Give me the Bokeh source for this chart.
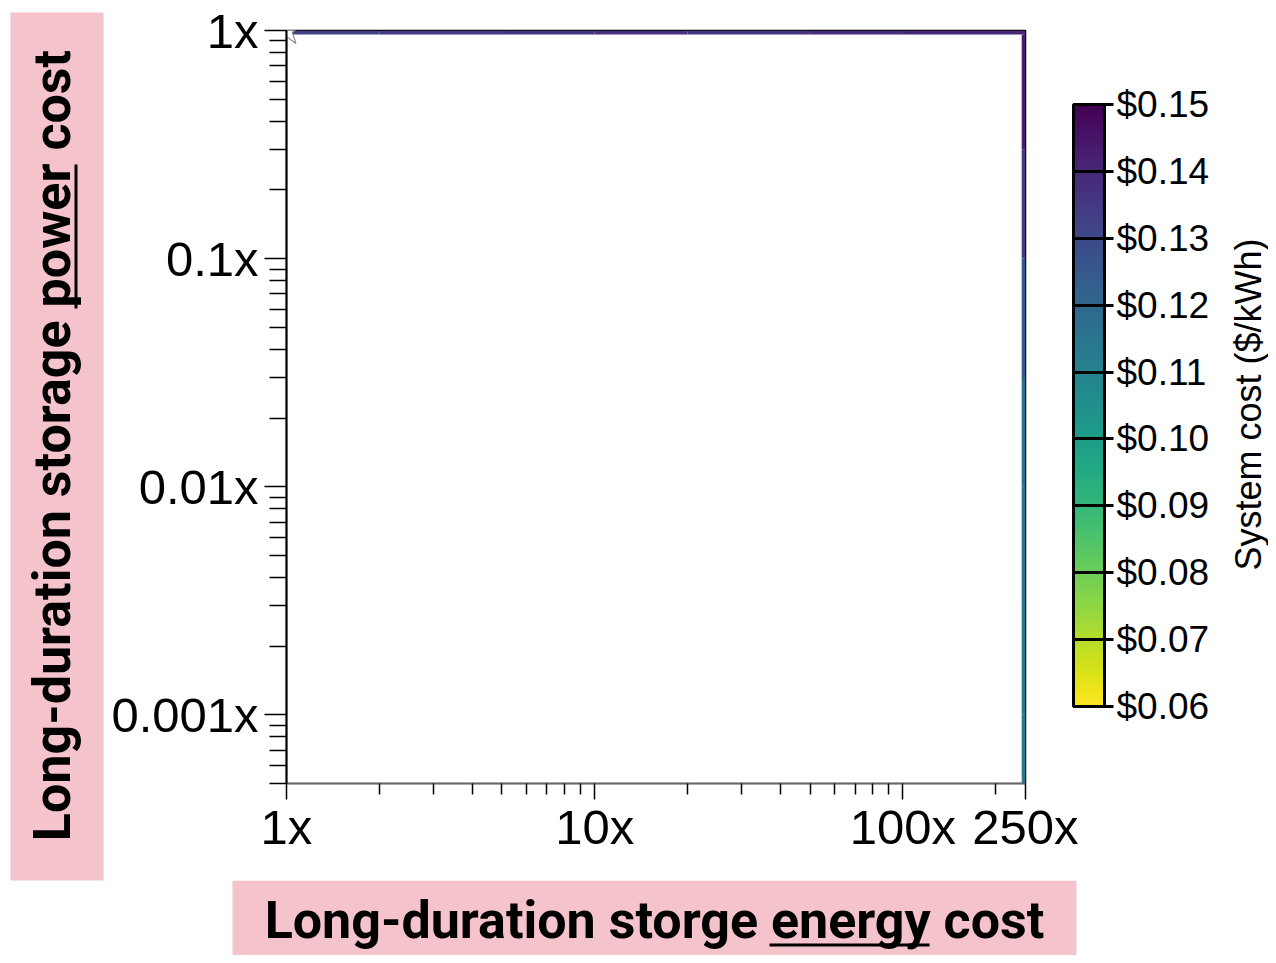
import math
from bokeh.plotting import figure
from bokeh.layouts import row, column
from bokeh.models import (LinearColorMapper, ColorBar, FixedTicker, NumeralTickFormatter,
                          ColumnDataSource)
from bokeh.palettes import Viridis256
from bokeh.core.properties import value
from bokeh.transform import linear_cmap
from bokeh.embed import file_html
from bokeh.resources import INLINE

# ---------------- data ----------------
energy_major_ticks = [1, 10, 100, 250]
energy_tick_labels = ["1x", "10x", "100x", "250x"]
energy_minor_ticks = [2, 3, 4, 5, 6, 7, 8, 9, 20, 30, 40, 50, 60, 70, 80, 90, 200]

power_major_ticks = [0.001, 0.01, 0.1, 1]
power_tick_labels = ["0.001x", "0.01x", "0.1x", "1x"]
power_minor_ticks = [0.0005, 0.0006, 0.0007, 0.0008, 0.0009,
                     0.002, 0.003, 0.004, 0.005, 0.006, 0.007, 0.008, 0.009,
                     0.02, 0.03, 0.04, 0.05, 0.06, 0.07, 0.08, 0.09,
                     0.2, 0.3, 0.4, 0.5, 0.6, 0.7, 0.8, 0.9]

# grid cells that carry a value: top row (power cost 1x) and right column (energy cost 250x)
top_row_energy_edges = [1, 2, 5, 10, 20, 50, 100, 250]
top_row_power_edges = [0.96, 1.0]
top_row_cost = [0.133, 0.135, 0.136, 0.137, 0.136, 0.138, 0.140]

right_col_power_edges = [0.0005, 0.001, 0.003, 0.01, 0.03, 0.1, 0.3, 0.96]
right_col_energy_edges = [243, 250]
right_col_cost = [0.112, 0.113, 0.115, 0.118, 0.125, 0.134, 0.143]

# reference point (star)
ref_energy = [1]
ref_power = [1]

cost_low, cost_high = 0.06, 0.15
cbar_ticks = [0.06, 0.07, 0.08, 0.09, 0.10, 0.11, 0.12, 0.13, 0.14, 0.15]

y_title = "Long-duration storage power cost"
x_title = "Long-duration storge energy cost"
cbar_title = "System cost ($/kWh)"

# ---------------- layout geometry (px) ----------------
LEFT_W, MAIN_W, RIGHT_W = 106, 1114, 48
MAIN_H, BOTTOM_H = 880, 75
TOTAL_H = MAIN_H + BOTTOM_H
FR_L, FR_T, FR_R, FR_B = 180, 30, 195, 97

pink = "#f5c3cc"
tick_font = "Liberation Sans"
title_font = "Roboto"


def blank_fig(w, h):
    f = figure(width=w, height=h, x_range=(0, w), y_range=(0, h),
               output_backend="svg", toolbar_location=None, min_border=0,
               x_axis_location=None, y_axis_location=None)
    f.outline_line_color = None
    f.xgrid.visible = False
    f.ygrid.visible = False
    f.background_fill_color = "white"
    f.border_fill_color = "white"
    return f


# ---------------- main figure ----------------
p = figure(width=MAIN_W, height=MAIN_H, x_axis_type="log", y_axis_type="log",
           x_range=(1, 250), y_range=(0.0005, 1),
           output_backend="svg", toolbar_location=None,
           min_border_left=FR_L, min_border_top=FR_T,
           min_border_right=FR_R, min_border_bottom=FR_B)
p.xgrid.visible = False
p.ygrid.visible = False
p.outline_line_color = "black"
p.outline_line_width = 1.5
p.background_fill_color = "white"
p.border_fill_color = "white"

mapper_palette = list(reversed(Viridis256))
cmap = linear_cmap("cost", mapper_palette, cost_low, cost_high)

top_src = ColumnDataSource(dict(
    left=top_row_energy_edges[:-1], right=top_row_energy_edges[1:],
    bottom=[top_row_power_edges[0]] * len(top_row_cost),
    top=[top_row_power_edges[1]] * len(top_row_cost),
    cost=top_row_cost))
right_src = ColumnDataSource(dict(
    left=[right_col_energy_edges[0]] * len(right_col_cost),
    right=[right_col_energy_edges[1]] * len(right_col_cost),
    bottom=right_col_power_edges[:-1], top=right_col_power_edges[1:],
    cost=right_col_cost))
p.quad(left="left", right="right", bottom="bottom", top="top", source=top_src,
       fill_color=cmap, line_color=None)
p.quad(left="left", right="right", bottom="bottom", top="top", source=right_src,
       fill_color=cmap, line_color=None)

p.scatter(ref_energy, ref_power, marker="star", size=32, fill_color="white",
          line_color="#8a8a8a", line_width=1.2)

xa = p.xaxis[0]
xa.ticker = FixedTicker(ticks=energy_major_ticks, minor_ticks=energy_minor_ticks)
xa.major_label_overrides = dict(zip(energy_major_ticks, energy_tick_labels))
xa.major_label_text_font = tick_font
xa.major_label_text_font_size = "49px"
xa.major_label_text_color = "black"
xa.axis_line_color = "#666666"
xa.axis_line_width = 1.5
xa.major_tick_in = 0
xa.major_tick_out = 16
xa.minor_tick_in = 0
xa.minor_tick_out = 11
xa.major_tick_line_color = "black"
xa.minor_tick_line_color = "black"
xa.major_tick_line_width = 1.5
xa.minor_tick_line_width = 1.5
xa.major_label_standoff = 0

ya = p.yaxis[0]
ya.ticker = FixedTicker(ticks=power_major_ticks, minor_ticks=power_minor_ticks)
ya.major_label_overrides = dict(zip(power_major_ticks, power_tick_labels))
ya.major_label_text_font = tick_font
ya.major_label_text_font_size = "49px"
ya.major_label_text_color = "black"
ya.axis_line_color = "black"
ya.axis_line_width = 2
ya.major_tick_in = 0
ya.major_tick_out = 22
ya.minor_tick_in = 0
ya.minor_tick_out = 17
ya.major_tick_line_color = "black"
ya.minor_tick_line_color = "black"
ya.major_tick_line_width = 1.5
ya.minor_tick_line_width = 1.5
ya.major_label_standoff = 6

# ---------------- colour bar ----------------
cm = LinearColorMapper(palette=mapper_palette, low=cost_low, high=cost_high)
cb = ColorBar(color_mapper=cm, location=(787, 77), width=31, height=602, padding=0,
              ticker=FixedTicker(ticks=cbar_ticks),
              formatter=NumeralTickFormatter(format="$0.00"),
              major_tick_in=31, major_tick_out=9,
              major_tick_line_color="black", major_tick_line_width=3,
              minor_tick_line_color=None,
              bar_line_color="black", bar_line_width=3,
              major_label_text_font=tick_font,
              major_label_text_font_size="37px",
              major_label_text_color="black",
              label_standoff=3,
              background_fill_color=None, border_line_color=None)
p.add_layout(cb)

# ---------------- left pink title (full height) ----------------
lf = blank_fig(LEFT_W, TOTAL_H)
lf.quad(left=[10], right=[103], bottom=[TOTAL_H - 880], top=[TOTAL_H - 12],
        fill_color=pink, line_color=None)
lf.text(x=[52], y=[TOTAL_H - 445], text=[y_title], angle=math.pi / 2,
        text_align="center", text_baseline="middle",
        text_font=value(title_font), text_font_size="52px",
        text_font_style="bold", text_color="black")
lf.quad(left=[74], right=[77], bottom=[TOTAL_H - 308], top=[TOTAL_H - 164],
        fill_color="black", line_color=None)

# ---------------- right colour-bar title (full height) ----------------
rf = blank_fig(RIGHT_W, TOTAL_H)
rf.text(x=[1248 - LEFT_W - MAIN_W], y=[TOTAL_H - 404], text=[cbar_title],
        angle=math.pi / 2, text_align="center", text_baseline="middle",
        text_font=value(tick_font), text_font_size="36px", text_color="black")

# ---------------- bottom pink title ----------------
bf = blank_fig(MAIN_W, BOTTOM_H)
bf.quad(left=[232 - LEFT_W], right=[1076 - LEFT_W], bottom=[0], top=[BOTTOM_H],
        fill_color=pink, line_color=None)
bf.text(x=[654 - LEFT_W], y=[BOTTOM_H - (920 - MAIN_H)], text=[x_title],
        text_align="center", text_baseline="middle",
        text_font=value(title_font), text_font_size="52px",
        text_font_style="bold", text_color="black")
bf.quad(left=[769 - LEFT_W], right=[929 - LEFT_W], bottom=[BOTTOM_H - (946 - MAIN_H)],
        top=[BOTTOM_H - (943 - MAIN_H)], fill_color="black", line_color=None)

layout = row(lf, column(p, row(bf)), rf)
open("out.html", "w").write(file_html(layout, INLINE))
